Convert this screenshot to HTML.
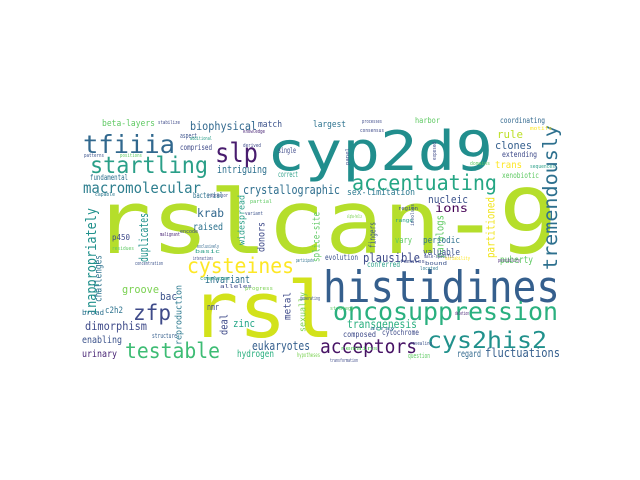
<!DOCTYPE html>
<html><head><meta charset="utf-8"><style>
html,body{margin:0;padding:0;background:#fff;width:640px;height:480px;overflow:hidden}
svg text{font-family:"DejaVu Sans Mono","Liberation Mono",monospace}
</style></head><body>
<svg id="cloud" width="640" height="480" viewBox="0 0 640 480" xmlns="http://www.w3.org/2000/svg">
<rect x="0" y="0" width="640" height="480" fill="#ffffff"/>
<g id="words"></g>
</svg>
<script>
// word, x, baseline, size, textLength, color, vertical(0/1)
const words = ["rslcan-9","cyp2d9","rsl","histidines","oncosuppression","cys2his2","acceptors","testable","cysteines","tremendously","tfiiia","slp","startling","macromolecular","accentuating","crystallographic","biophysical","beta-layers","match","largest","coordinating","rule","clones","extending","trans","xenobiotic","sex-limitation","nucleic","ions","partitioned","paralogs","periodic","valuable","puberty","plausible","fingers","splice-site","donors","widespread","duplicates","krab","raised","p450","inappropriately","challenges","invariant","groove","bac","zfp","c2h2","dimorphism","enabling","urinary","broad","structure","reproduction","nmr","metal","deal","zinc","sexually","eukaryotes","hydrogen","transgenesis","composed","cytochrome","conferred","evolution","vary","regard","fluctuations","intriguing","comprised","aspect","single","correct","fundamental","bacterial","harbor","hypotheses","question","stabilize","knowledge","derived","additional","positions","patterns","capable","repressor","partial","variant","encode","malignant","exclusively","residues","basic","interactions","participate","concentration","complexes","alleles","progress","generating","strategy","females","bound","located","possibility","transformation","remains","revealing","array","deletion","region","range","involves","processes","consensus","motifs","sequences","domains","exposed","panel","alpha-helix","male-specific","variability"];
const xs = [93,267,190,323,333,427,320,125,187,560,83,215,90,83,352,243,190,102,258,313,500,497,495,502,495,502,347,428,435,496,445,423,423,500,363,377,321,266,246,150,197,193,112,98,103,205,122,160,133,105,85,82,82,82,152,183,207,292,229,233,307,252,237,347,343,382,367,325,395,457,485,217,180,180,278,278,90,193,415,297,408,158,243,243,190,120,84,95,208,250,245,180,160,197,112,195,193,296,135,200,220,245,300,330,400,425,420,498,330,340,410,370,455,398,395,415,362,360,530,530,470,437,350,347,424,445];
const ys = [253,170,337,302,320,348,353,358,273,270,153,162,173,193,190,194,130,126,127,127,123,138,149,157,168,178,195,203,212,258,258,243,255,263,262,248,262,252,245,262,217,230,240,315,302,283,293,300,320,313,330,343,357,315,338,345,310,320,335,327,332,350,357,328,337,335,267,260,243,357,357,173,150,138,153,177,180,198,123,357,358,124,133,147,140,157,157,196,197,203,215,233,236,248,250,253,260,262,265,280,288,290,300,310,263,265,270,262,362,350,345,330,315,210,222,226,123,132,130,168,165,160,165,218,258,260];
const ss = [100,62,88,50,28,26,22,24,24,22,28,30,26,17,24,14,13,10,10,10,9,12,12,9,11,9,10,12,13,13,12,10,10,11,14,10,11,11,10,14,13,11,9,16,11,12,12,12,24,10,13,11,11,8,8,10,10,11,12,12,10,14,11,13,9,9,9,9,10,11,14,12,9,8,9,9,9,9,9,7,8,6,6,6,6,6,6,6,6,6,6,6,6,6,6,6,6,6,6,6,6,6,6,6,6,6,6,6,6,6,6,6,6,6,6,6,6,6,6,6,6,6,6,6,6,6];
const ls = [464,226,145,237,225,120,97,95,107,145,92,43,118,118,145,97,67,53,24,33,45,26,37,35,27,37,68,40,33,61,43,37,37,33,57,26,50,30,50,49,27,30,18,107,47,45,37,17,38,18,62,40,35,22,25,60,12,28,21,22,40,58,37,70,33,37,33,33,17,24,75,50,32,17,18,20,38,30,25,23,22,22,22,18,22,22,20,20,20,22,18,18,20,22,22,25,20,18,28,30,32,28,20,24,25,22,18,22,28,38,22,25,14,20,18,22,20,24,22,25,20,18,17,15,30,25];
const cs = ["#b5de2b","#218e8d","#d2e21b","#355f8d","#2ab07f","#21918c","#471365","#3dbc74","#fde725","#2d708e","#31688e","#481c6e","#2a9f88","#2d7e8e","#25a684","#2e6e8e","#31688e","#5ec962","#3b528b","#2c728e","#31688e","#bddf26","#355f8d","#3e4a89","#fde725","#5ec962","#2a788e","#3b528b","#440154","#f1e51d","#5ec962","#2d708e","#3b528b","#5ec962","#3e4a89","#3b528b","#5ec962","#3e4a89","#2a9f88","#21918c","#31688e","#2c728e","#3e4a89","#21918c","#2c728e","#2d708e","#7ad151","#3b528b","#3e4a89","#2c728e","#3e4a89","#3b528b","#482475","#2d708e","#355f8d","#2a788e","#3e4a89","#3e4a89","#3e4a89","#21a585","#7ad151","#355f8d","#2ab07f","#29af7f","#3e4a89","#3e4a89","#2a9f88","#3b528b","#5ec962","#31688e","#355f8d","#2d708e","#3e4a89","#3b528b","#3e4a89","#2a9f88","#2d708e","#2c728e","#5ec962","#7ad151","#5ec962","#3e4a89","#482475","#3e4a89","#2a9f88","#5ec962","#3b528b","#2a788e","#3e4a89","#5ec962","#3b528b","#3e4a89","#482475","#31688e","#5ec962","#2a9f88","#3e4a89","#2d708e","#3b528b","#2a9f88","#3e4a89","#7ad151","#3b528b","#5ec962","#3e4a89","#3b528b","#2a788e","#482475","#3e4a89","#5ec962","#3b528b","#2c728e","#482475","#3e4a89","#2a9f88","#3b528b","#3e4a89","#3e4a89","#fde725","#2a9f88","#5ec962","#3e4a89","#3b528b","#7ad151","#3e4a89","#fde725"];
const vs = [0,0,0,0,0,0,0,0,0,1,0,0,0,0,0,0,0,0,0,0,0,0,0,0,0,0,0,0,0,1,1,0,0,0,0,1,1,1,1,1,0,0,0,1,1,0,0,0,0,0,0,0,0,0,0,1,0,1,1,0,1,0,0,0,0,0,0,0,0,0,0,0,0,0,0,0,0,0,0,0,0,0,0,0,0,0,0,0,0,0,0,0,0,0,0,0,0,0,0,0,0,0,0,0,0,0,0,0,0,0,0,0,0,0,0,1,0,0,0,0,0,1,1,0,0,0];
const g = document.getElementById('words');
const NS = 'http://www.w3.org/2000/svg';
for (let i = 0; i < words.length; i++) {
  const t = document.createElementNS(NS, 'text');
  
  
  const fs = ss[i] * 0.88;
  let x = xs[i], y = ys[i];
  if (vs[i]) {
    const bx = x - 0.15 * fs;
    t.setAttribute('x', 0); t.setAttribute('y', 0);
    t.setAttribute('transform', 'translate(' + bx + ',' + y + ') rotate(-90)');
  } else {
    t.setAttribute('x', x); t.setAttribute('y', y);
  }
  t.setAttribute('font-size', fs);
  t.setAttribute('textLength', ls[i]);
  t.setAttribute('lengthAdjust', 'spacingAndGlyphs');
  t.setAttribute('fill', cs[i]);
  t.textContent = words[i];
  g.appendChild(t);
}
</script>
</body></html>
